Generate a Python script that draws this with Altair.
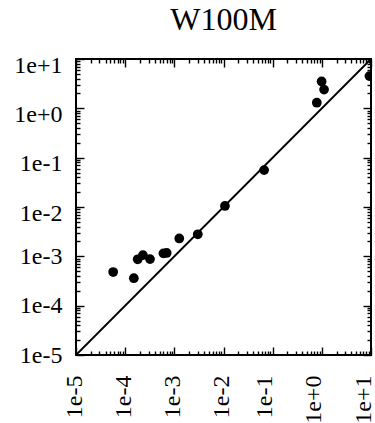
import json
import altair as alt
import pandas as pd

# Data (log-log scatter)
x_vals = [5.7e-5, 1.5e-4, 1.8e-4, 2.3e-4, 3.2e-4, 6.0e-4, 7.0e-4, 1.26e-3,
          3.0e-3, 1.07e-2, 6.7e-2, 0.79, 0.99, 1.11, 9.3]
y_vals = [4.8e-4, 3.6e-4, 8.7e-4, 1.06e-3, 8.8e-4, 1.15e-3, 1.17e-3, 2.3e-3,
          2.8e-3, 1.05e-2, 5.6e-2, 1.3, 3.5, 2.4, 4.5]
diag_vals = [1e-5, 1e1]

major_ticks = [1e-5, 1e-4, 1e-3, 1e-2, 1e-1, 1e0, 1e1]
tick_labels = ["1e-5", "1e-4", "1e-3", "1e-2", "1e-1", "1e+0", "1e+1"]
minor_mult = [2, 3, 4, 5, 6, 7, 8, 9]
minor_ticks = [m * d for d in major_ticks[:-1] for m in minor_mult]

pts = pd.DataFrame({"x": x_vals, "y": y_vals})
diag = pd.DataFrame({"x": diag_vals, "y": diag_vals})

FONT = "Liberation Serif"
MAJ, MIN = 8, 4
label_expr = f"{json.dumps(tick_labels)}[round(log(datum.value)/LN10) + 5]"

sc = alt.Scale(type="log", domain=[1e-5, 1e1], nice=False)


def axis(orient, values, size, labels=False):
    kw = dict(orient=orient, values=values, domain=False, grid=False,
              tickSize=size, offset=-size, tickColor="black", tickWidth=1.4,
              title=None, labels=labels)
    if labels:
        kw.update(labelExpr=label_expr, labelFont=FONT, labelFontSize=24,
                  labelColor="black")
        if orient == "bottom":
            kw.update(labelAngle=270, labelPadding=20, labelAlign="right",
                      labelBaseline="middle",
                      labelOffset={"condition": {"test": "datum.value >= 0.05", "value": -8},
                                   "value": -2})
        else:
            kw.update(labelPadding=14,
                      labelOffset={"condition": {"test": "datum.value >= 0.005", "value": 6},
                                   "value": 0})
    return alt.Axis(**kw)


points = alt.Chart(pts).mark_circle(size=95, color="black", opacity=1, clip=True).encode(
    x=alt.X("x:Q", scale=sc, axis=axis("bottom", major_ticks, MAJ, True)),
    y=alt.Y("y:Q", scale=sc, axis=axis("left", major_ticks, MAJ, True)),
)
line = alt.Chart(diag).mark_line(color="black", strokeWidth=1.8).encode(
    x=alt.X("x:Q", scale=sc, axis=axis("bottom", minor_ticks, MIN)),
    y=alt.Y("y:Q", scale=sc, axis=axis("left", minor_ticks, MIN)),
)
top_major = alt.Chart(diag).mark_point(opacity=0).encode(
    x=alt.X("x:Q", scale=sc, axis=axis("top", major_ticks, MAJ)),
    y=alt.Y("y:Q", scale=sc, axis=axis("right", major_ticks, MAJ)),
)
top_minor = alt.Chart(diag).mark_point(opacity=0).encode(
    x=alt.X("x:Q", scale=sc, axis=axis("top", minor_ticks, MIN)),
    y=alt.Y("y:Q", scale=sc, axis=axis("right", minor_ticks, MIN)),
)

chart = (
    alt.layer(points, line, top_major, top_minor)
    .resolve_axis(x="independent", y="independent")
    .properties(
        width=295,
        height=296,
        title=alt.TitleParams("W100M", font=FONT, fontSize=32, fontWeight="normal",
                              color="black", anchor="middle", frame="group", offset=16),
        autosize=alt.AutoSizeParams(type="none"),
        padding={"left": 76, "top": 59, "right": 4, "bottom": 68},
        background="white",
    )
    .configure_view(stroke="black", strokeWidth=2)
)

chart.save("out.html", embed_options={"renderer": "svg", "actions": False})
